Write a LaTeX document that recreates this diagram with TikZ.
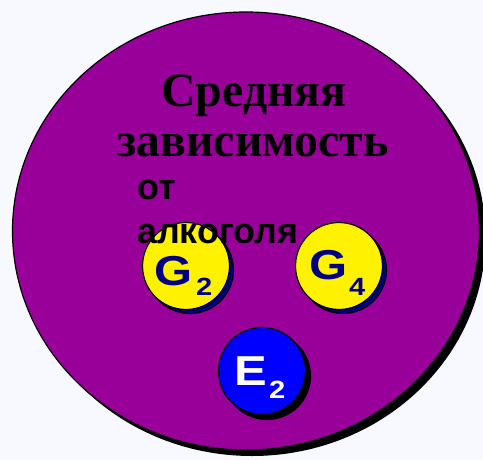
\documentclass[tikz,border=0pt]{standalone}
\usepackage{fontspec}
\setmainfont{Liberation Serif}
\newfontfamily\arialf{Liberation Sans}
\usetikzlibrary{shapes.geometric}
\definecolor{bgc}{RGB}{248,248,255}
\definecolor{purp}{RGB}{153,0,153}
\definecolor{navyc}{RGB}{0,0,128}
\newcommand{\widen}[1]{\scalebox{1.17}[1]{#1}}
\begin{document}
\begin{tikzpicture}[x=1bp,y=-1bp,
  bigoval/.style={ellipse, minimum width=467bp, minimum height=438bp, inner sep=0},
  ball/.style={circle, minimum size=87bp, inner sep=0, draw=black, line width=1.2bp},
  titletext/.style={anchor=base, inner sep=0, font=\bfseries\fontsize{48}{48}\selectfont},
  subtitletext/.style={anchor=base west, inner sep=0, font=\arialf\bfseries\fontsize{36}{36}\selectfont},
  letter/.style={anchor=base west, inner sep=0, font=\arialf\bfseries\fontsize{42}{42}\selectfont},
  index/.style={anchor=base west, inner sep=0, font=\arialf\bfseries\fontsize{25}{25}\selectfont}]
\fill[bgc] (0,0) rectangle (483,460);
\useasboundingbox (0,0) rectangle (483,460);
\begin{scope}
\clip (0,0) rectangle (483,460);
\node[bigoval, fill=black] (bigshadow) at (252,237) {};
\node[bigoval, fill=purp, draw=black, line width=1.2bp] (big) at (246,231) {};
\end{scope}
% yellow G2
\node[ball, fill=navyc] (g2shadow) at (190,270) {};
\node[ball, fill=yellow] (g2) at (186,266) {};
% yellow G4
\node[ball, fill=navyc] (g4shadow) at (343,270) {};
\node[ball, fill=yellow] (g4) at (339,266) {};
% blue E2
\node[ball, fill=black] (e2shadow) at (267,376) {};
\node[ball, fill=blue] (e2) at (262,371) {};
% letters
\node[letter, text=navyc] (g2l) at (154,285) {\widen{G}};
\node[index, text=navyc] (g2s) at (196,295) {\widen{2}};
\node[letter, text=navyc] (g4l) at (309,279) {\widen{G}};
\node[index, text=navyc] (g4s) at (349,295) {\widen{4}};
\node[letter, text=white] (e2l) at (234,385) {\widen{E}};
\node[index, text=white] (e2s) at (269,398) {\widen{2}};
% texts
\node[titletext] (t1) at (254,107) {Средняя};
\node[titletext] (t2) at (253,157) {зависимость};
\node[subtitletext] (t3) at (137,200) {от};
\node[subtitletext] (t4) at (137,243) {алкоголя};
\end{tikzpicture}
\end{document}
